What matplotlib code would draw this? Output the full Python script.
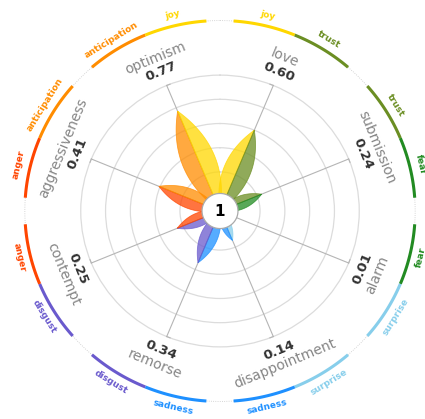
import numpy as np
import matplotlib.pyplot as plt

# dyads clockwise from the top, each made of two neighbouring emotions
dyads = ['love', 'submission', 'alarm', 'disappointment',
         'remorse', 'contempt', 'aggressiveness', 'optimism']
values = [0.60, 0.24, 0.01, 0.14, 0.34, 0.25, 0.41, 0.77]
emotions = ['joy', 'trust', 'fear', 'surprise',
            'sadness', 'disgust', 'anger', 'anticipation']
emo_colors = ['gold', 'olivedrab', 'forestgreen', 'skyblue',
              'dodgerblue', 'slateblue', 'orangered', 'darkorange']
center_label = '1'

OFF = 0.123      # petals start a bit away from centre
RING = 1.574     # outer coloured ring
RMAX = 1.75
W, H = 425, 419
cx, cy = 220, 211
sx, sy = 124, 121  # pixels per unit

fig = plt.figure(figsize=(W / 100, H / 100), dpi=100)
ax = fig.add_axes([(cx - RMAX * sx) / W, (H - cy - RMAX * sy) / H,
                   2 * RMAX * sx / W, 2 * RMAX * sy / H], projection='polar')
ax.set_aspect('auto')
ax.set_theta_zero_location('N')
ax.set_theta_direction(-1)
ax.set_ylim(0, RMAX)
ax.set_xticks([])
ax.set_yticks(OFF + np.arange(0.2, 1.01, 0.2))
ax.set_yticklabels([])
ax.yaxis.grid(True, color='#dcdcdc', lw=0.9)
ax.spines['polar'].set_visible(False)


def tangent_rot(deg):
    deg = deg % 360
    if deg < 90 or deg > 270:
        return -deg
    return 180 - deg


def petal_half(theta_deg, v, side):
    L = OFF + v
    Wd = 0.15 * L
    s = np.linspace(0, 1, 80)
    a = s * L
    c = 4 * Wd * s * (1 - s)
    r_edge = np.hypot(a, c)
    d_edge = np.arctan2(c, a)
    th = np.radians(theta_deg)
    thetas = np.concatenate([np.full(80, th), (th - side * d_edge)[::-1]])
    rs = np.concatenate([a, r_edge[::-1]])
    return thetas, rs


full = np.linspace(0, 2 * np.pi, 400)
ax.plot(full, np.full(400, RING), ls=':', color='#c8c8c8', lw=0.6)

for k, (name, v) in enumerate(zip(dyads, values)):
    deg = 22.5 + 45 * k
    th = np.radians(deg)
    c1, c2 = emo_colors[k], emo_colors[(k + 1) % 8]
    e1, e2 = emotions[k], emotions[(k + 1) % 8]

    # radial line with a small hook at the end
    ax.plot([th, th], [0, OFF + 1], color='#b5b5b5', lw=0.8, zorder=1.6)
    hook = np.radians(deg + (1.5 if k % 2 else -1.5))
    ax.plot(np.linspace(th, hook, 5), np.full(5, OFF + 1), color='#b5b5b5', lw=0.8, zorder=1.6)

    # petal, two halves
    for side, col in ((1, c1), (-1, c2)):
        t, r = petal_half(deg, v, side)
        ax.fill(t, r, facecolor=col, alpha=0.75, edgecolor=col, lw=0.6, zorder=3)

    # outer ring arcs
    a1 = np.radians(np.linspace(deg - 18.5, deg, 40))
    a2 = np.radians(np.linspace(deg, deg + 18.5, 40))
    ax.plot(a1, np.full(40, RING), color=c1, lw=2.2, solid_capstyle='butt')
    ax.plot(a2, np.full(40, RING), color=c2, lw=2.2, solid_capstyle='butt')
    for ed, en, col in ((deg - 9.25, e1, c1), (deg + 9.25, e2, c2)):
        ax.text(np.radians(ed), 1.665, en, rotation=tangent_rot(ed), rotation_mode='anchor',
                ha='center', va='center', fontsize=6.5, fontweight='bold', color=col)

    rot = tangent_rot(deg)
    ax.text(th, 1.37, name, rotation=rot, rotation_mode='anchor',
            ha='center', va='center', fontsize=10, color='#858585')
    ax.text(th, 1.245, '%.2f' % v, rotation=rot, rotation_mode='anchor',
            ha='center', va='center', fontsize=9.5, fontweight='bold', color='#333333')

# centre circle
ax.fill(full, np.full(400, 0.145), facecolor='white', edgecolor='#aaaaaa', lw=0.9, zorder=5)
ax.text(0, 0, center_label, ha='center', va='center', fontsize=11, fontweight='bold', zorder=6)

fig.savefig('out.png', dpi=100)
